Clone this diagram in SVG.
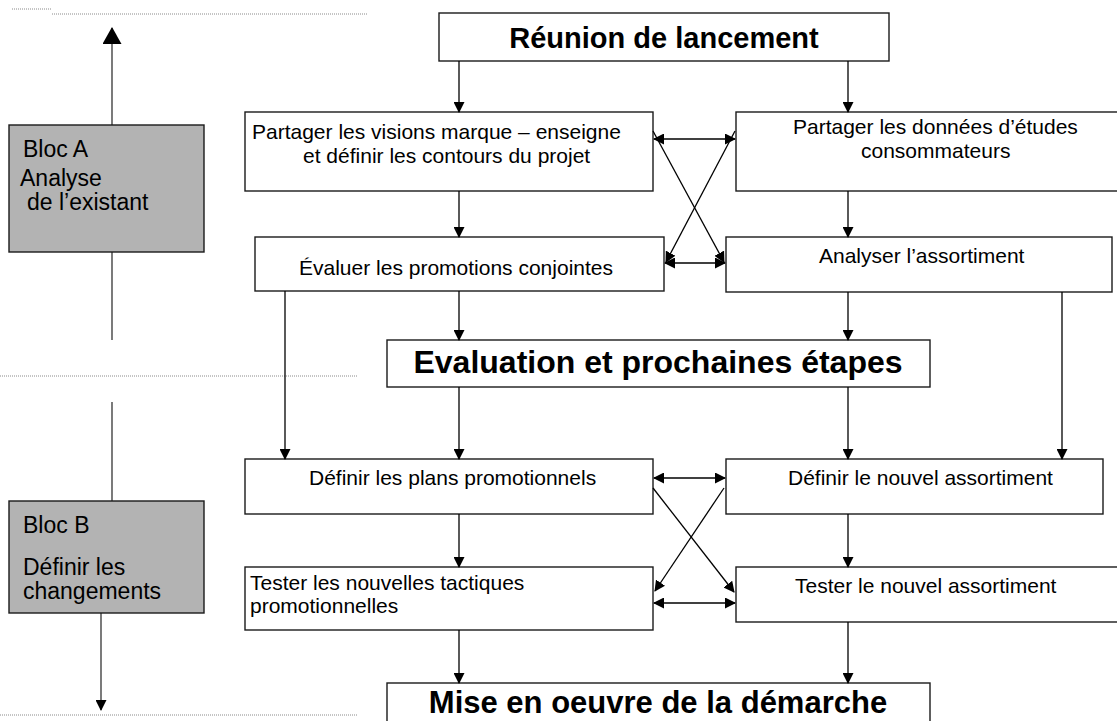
<svg xmlns="http://www.w3.org/2000/svg" width="1117" height="721" viewBox="0 0 1117 721">
<defs>
<marker id="ah" markerUnits="userSpaceOnUse" markerWidth="11" markerHeight="11" refX="10" refY="5.5" orient="auto-start-reverse" viewBox="0 0 11 11">
<path d="M0,0 L11,5.5 L0,11 z" fill="#000"/>
</marker>
<marker id="ahBig" markerUnits="userSpaceOnUse" markerWidth="17" markerHeight="20" refX="16" refY="9.5" orient="auto" viewBox="0 0 17 20">
<path d="M0,0 L17,9.5 L0,19 z" fill="#000"/>
</marker>
</defs>
<style>
.box{fill:#fff;stroke:#1a1a1a;stroke-width:1.4}
.bloc{fill:#b3b3b3;stroke:#1a1a1a;stroke-width:1.4}
.t{font-family:"Liberation Sans",Arial,sans-serif;font-size:21px;fill:#000}
.tb{font-family:"Liberation Sans",Arial,sans-serif;font-weight:bold;fill:#000}
.tl{font-family:"Liberation Sans",Arial,sans-serif;font-size:23px;fill:#000}
.c{fill:none;stroke:#000;stroke-width:1.3}
.a{marker-end:url(#ah)}
.d{marker-start:url(#ah);marker-end:url(#ah)}
.dot{fill:none;stroke:#8a8a8a;stroke-width:1;stroke-dasharray:1 1}
.side{fill:none;stroke:#333;stroke-width:1.3}
</style>
<rect width="1117" height="721" fill="#fff"/>
<g id="guides">
<line class="dot" x1="12" y1="9" x2="52" y2="9"/>
<line class="dot" x1="52" y1="14" x2="368" y2="14"/>
<line class="dot" x1="0" y1="376" x2="357" y2="376"/>
<line class="dot" x1="0" y1="715" x2="357" y2="715"/>
<line class="side" x1="112" y1="125" x2="112" y2="28" marker-end="url(#ahBig)"/>
<line class="side" x1="112" y1="252" x2="112" y2="340"/>
<line class="side" x1="112" y1="402" x2="112" y2="501"/>
<line class="side" x1="101" y1="608" x2="101" y2="710" marker-end="url(#ah)"/>
</g>
<g id="blocA">
<rect class="bloc" x="9" y="125" width="195" height="127"/>
<text class="tl" x="23" y="157">Bloc A</text>
<text class="tl" x="20" y="186">Analyse</text>
<text class="tl" x="27" y="210">de l’existant</text>
</g>
<g id="blocB">
<rect class="bloc" x="9" y="501" width="195" height="112"/>
<text class="tl" x="23" y="533">Bloc B</text>
<text class="tl" x="23" y="575">Définir les</text>
<text class="tl" x="23" y="599">changements</text>
</g>
<g id="reunion">
<rect class="box" x="439" y="13" width="450" height="48"/>
<text class="tb" x="664" y="48" font-size="29" text-anchor="middle">Réunion de lancement</text>
</g>
<g id="partager-visions">
<rect class="box" x="245" y="112" width="408" height="79"/>
<text class="t" x="252" y="139">Partager les visions marque – enseigne</text>
<text class="t" x="303" y="163">et définir les contours du projet</text>
</g>
<g id="partager-donnees">
<rect class="box" x="736" y="112" width="400" height="79"/>
<text class="t" x="793" y="134">Partager les données d’études</text>
<text class="t" x="861" y="158">consommateurs</text>
</g>
<g id="evaluer">
<rect class="box" x="255" y="237" width="409" height="54"/>
<text class="t" x="299" y="275">Évaluer les promotions conjointes</text>
</g>
<g id="analyser">
<rect class="box" x="726" y="237" width="386" height="55"/>
<text class="t" x="819" y="263">Analyser l’assortiment</text>
</g>
<g id="evaluation">
<rect class="box" x="387" y="340" width="543" height="47"/>
<text class="tb" x="658" y="373" font-size="32" text-anchor="middle">Evaluation et prochaines étapes</text>
</g>
<g id="definir-plans">
<rect class="box" x="245" y="459" width="408" height="55"/>
<text class="t" x="309" y="485">Définir les plans promotionnels</text>
</g>
<g id="definir-assortiment">
<rect class="box" x="726" y="459" width="377" height="55"/>
<text class="t" x="788" y="485">Définir le nouvel assortiment</text>
</g>
<g id="tester-tactiques">
<rect class="box" x="245" y="567" width="408" height="63"/>
<text class="t" x="250" y="590">Tester les nouvelles tactiques</text>
<text class="t" x="250" y="613">promotionnelles</text>
</g>
<g id="tester-assortiment">
<rect class="box" x="736" y="567" width="400" height="55"/>
<text class="t" x="795" y="593">Tester le nouvel assortiment</text>
</g>
<g id="mise">
<rect class="box" x="387" y="683" width="543" height="60"/>
<text class="tb" x="658" y="713" font-size="31" text-anchor="middle">Mise en oeuvre de la démarche</text>
</g>
<g id="connectors">
<line class="c a" x1="459" y1="61" x2="459" y2="112"/>
<line class="c a" x1="848" y1="61" x2="848" y2="112"/>
<line class="c a" x1="459" y1="191" x2="459" y2="237"/>
<line class="c a" x1="848" y1="191" x2="848" y2="237"/>
<line class="c d" x1="654" y1="139" x2="735" y2="139"/>
<line class="c d" x1="665" y1="263" x2="725" y2="263"/>
<line class="c a" x1="653" y1="131" x2="724" y2="262"/>
<line class="c a" x1="735" y1="131" x2="666" y2="262"/>
<line class="c a" x1="459" y1="291" x2="459" y2="340"/>
<line class="c a" x1="848" y1="292" x2="848" y2="340"/>
<line class="c a" x1="285" y1="291" x2="285" y2="459"/>
<line class="c a" x1="1062" y1="292" x2="1062" y2="459"/>
<line class="c a" x1="459" y1="387" x2="459" y2="459"/>
<line class="c a" x1="848" y1="387" x2="848" y2="459"/>
<line class="c d" x1="654" y1="478" x2="725" y2="478"/>
<line class="c d" x1="654" y1="603" x2="735" y2="603"/>
<line class="c a" x1="653" y1="488" x2="734" y2="592"/>
<line class="c a" x1="724" y1="488" x2="655" y2="591"/>
<line class="c a" x1="459" y1="514" x2="459" y2="567"/>
<line class="c a" x1="848" y1="514" x2="848" y2="567"/>
<line class="c a" x1="459" y1="630" x2="459" y2="683"/>
<line class="c a" x1="848" y1="622" x2="848" y2="683"/>
</g>
</svg>
